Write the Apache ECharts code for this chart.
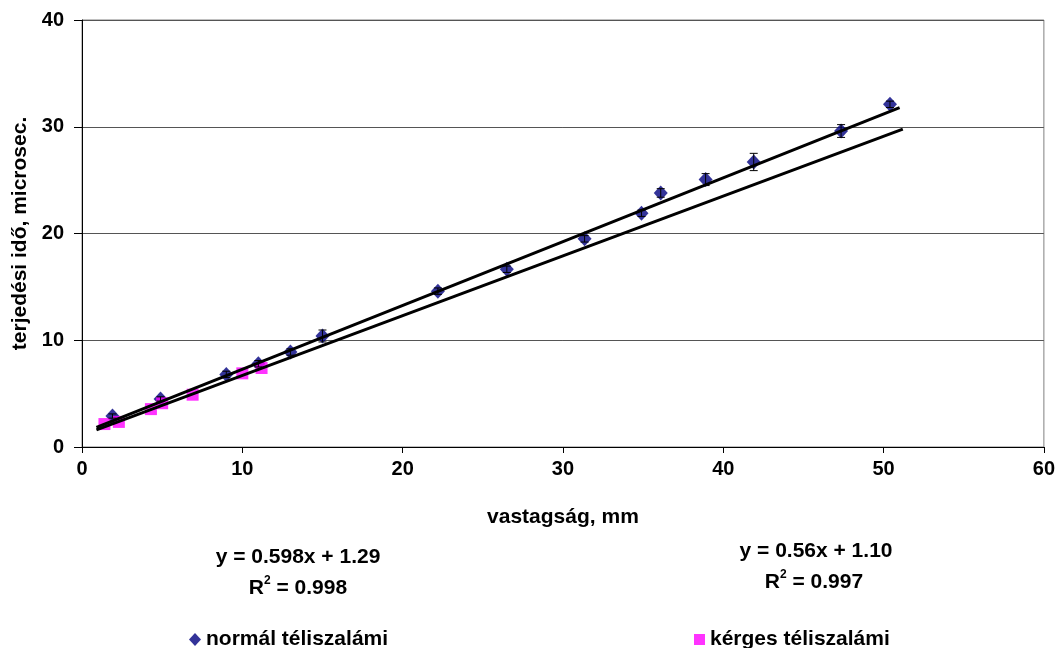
<!DOCTYPE html>
<html>
<head>
<meta charset="utf-8">
<script src="https://cdn.jsdelivr.net/npm/echarts@6/dist/echarts.min.js"></script>
<style>
html,body{margin:0;padding:0;background:#fff;}
#chart{width:1058px;height:648px;}
</style>
</head>
<body>
<div id="chart"></div>
<script>
// Data
var normalName = 'normál téliszalámi';
var kergesName = 'kérges téliszalámi';
var normalX = [1.9, 4.9, 9.0, 11.0, 13.0, 15.0, 22.2, 26.5, 31.35, 34.9, 36.1, 38.9, 41.9, 47.35, 50.4];
var normalY = [2.9, 4.5, 6.8, 7.8, 8.9, 10.4, 14.6, 16.65, 19.5, 21.9, 23.8, 25.05, 26.7, 29.6, 32.1];
var normalErr = [0.2, 0.2, 0.3, 0.3, 0.3, 0.56, 0.3, 0.3, 0.3, 0.3, 0.4, 0.56, 0.81, 0.6, 0.3];
var kergesX = [1.4, 2.3, 4.3, 5.0, 6.9, 10.0, 11.2];
var kergesY = [2.15, 2.35, 3.55, 4.1, 4.9, 6.9, 7.4];
// trendline end points (x, y)
var trendNormalX = [0.9, 51.0];
var trendNormalY = [1.83, 31.79];
var trendKergesX = [0.9, 51.2];
var trendKergesY = [1.60, 29.77];
var xTicks = [0, 10, 20, 30, 40, 50, 60];
var yTicks = [0, 10, 20, 30, 40];
var eqNormal = ['y = 0.598x + 1.29', 'R', '2', ' = 0.998'];
var eqKerges = ['y = 0.56x + 1.10', 'R', '2', ' = 0.997'];

function pairs(xs, ys) { return xs.map(function (x, i) { return [x, ys[i]]; }); }

var FONT = '"Liberation Sans", Arial, sans-serif';
var chart = echarts.init(document.getElementById('chart'), null, {renderer: 'canvas'});

var option = {
  animation: false,
  backgroundColor: '#ffffff',
  grid: {left: 82, right: 11, top: 20, bottom: 201, show: true, borderColor: '#808080', borderWidth: 1, containLabel: false},
  xAxis: {
    type: 'value', min: xTicks[0], max: xTicks[xTicks.length - 1], interval: 10,
    name: 'vastagság, mm', nameLocation: 'middle', nameGap: 60,
    nameTextStyle: {fontFamily: FONT, fontWeight: 'bold', fontSize: 21, color: '#000'},
    axisLine: {show: true, onZero: false, lineStyle: {color: '#000', width: 1}},
    axisTick: {show: true, inside: false, length: 6, lineStyle: {color: '#000'}},
    axisLabel: {fontFamily: FONT, fontWeight: 'bold', fontSize: 20, color: '#000', margin: 12},
    splitLine: {show: false}
  },
  yAxis: {
    type: 'value', min: yTicks[0], max: yTicks[yTicks.length - 1], interval: 10,
    name: 'terjedési idő, microsec.', nameLocation: 'middle', nameGap: 44, nameRotate: 90,
    nameTextStyle: {fontFamily: FONT, fontWeight: 'bold', fontSize: 21, color: '#000'},
    axisLine: {show: true, onZero: false, lineStyle: {color: '#000', width: 1}},
    axisTick: {show: true, inside: false, length: 8, lineStyle: {color: '#000'}},
    axisLabel: {fontFamily: FONT, fontWeight: 'bold', fontSize: 20, color: '#000', margin: 18},
    splitLine: {show: true, lineStyle: {color: '#555555', width: 1}}
  },
  legend: [
    {data: [{name: normalName, icon: 'diamond'}], left: 184, top: 624, itemWidth: 12, itemHeight: 13, itemGap: 4,
     textStyle: {fontFamily: FONT, fontWeight: 'bold', fontSize: 21, color: '#000'}},
    {data: [{name: kergesName, icon: 'rect'}], left: 689, top: 624, itemWidth: 11, itemHeight: 11, itemGap: 4,
     textStyle: {fontFamily: FONT, fontWeight: 'bold', fontSize: 21, color: '#000'}}
  ],
  series: [
    {
      name: normalName, type: 'scatter', symbol: 'diamond', symbolSize: [14, 15],
      itemStyle: {color: '#000080'}, data: pairs(normalX, normalY), z: 3
    },
    {
      name: 'errNormal', type: 'custom', z: 4,
      renderItem: function (params, api) {
        var x = api.value(0), y = api.value(1), e = api.value(2);
        var top = api.coord([x, y + e]);
        var bot = api.coord([x, y - e]);
        var hw = 4;
        var st = {stroke: '#000', lineWidth: 1};
        return {type: 'group', children: [
          {type: 'line', shape: {x1: top[0], y1: top[1], x2: bot[0], y2: bot[1]}, style: st},
          {type: 'line', shape: {x1: top[0] - hw, y1: top[1], x2: top[0] + hw, y2: top[1]}, style: st},
          {type: 'line', shape: {x1: bot[0] - hw, y1: bot[1], x2: bot[0] + hw, y2: bot[1]}, style: st}
        ]};
      },
      data: normalX.map(function (x, i) { return [x, normalY[i], normalErr[i]]; })
    },
    {
      name: kergesName, type: 'scatter', symbol: 'rect', symbolSize: 12,
      itemStyle: {color: '#FF00FF'}, data: pairs(kergesX, kergesY), z: 3
    },
    {
      name: 'trendNormal', type: 'line', symbol: 'none', z: 5,
      lineStyle: {color: '#000', width: 3}, data: pairs(trendNormalX, trendNormalY)
    },
    {
      name: 'trendKerges', type: 'line', symbol: 'none', z: 5,
      lineStyle: {color: '#000', width: 3}, data: pairs(trendKergesX, trendKergesY)
    }
  ]
};

var richStyle = {
  a: {fontFamily: FONT, fontWeight: 'bold', fontSize: 21, fill: '#000', lineHeight: 24, verticalAlign: 'bottom'},
  s: {fontFamily: FONT, fontWeight: 'bold', fontSize: 12, fill: '#000', lineHeight: 24, verticalAlign: 'top', padding: [0, 0, 0, 0]}
};
function eqLine(txt, x, y) {
  return {type: 'text', x: x, y: y, style: {text: txt, fontFamily: FONT, fontWeight: 'bold', fontSize: 21, fill: '#000', textAlign: 'center', textVerticalAlign: 'middle'}};
}
function r2Line(parts, x, y) {
  return {type: 'text', x: x, y: y, style: {
    text: '{a|' + parts[1] + '}{s|' + parts[2] + '}{a|' + parts[3] + '}',
    rich: richStyle, textAlign: 'center', textVerticalAlign: 'middle'}};
}
option.graphic = [
  eqLine(eqNormal[0], 298, 557),
  r2Line(eqNormal, 298, 587),
  eqLine(eqKerges[0], 816, 551),
  r2Line(eqKerges, 814, 581)
];

chart.setOption(option);
</script>
</body>
</html>
